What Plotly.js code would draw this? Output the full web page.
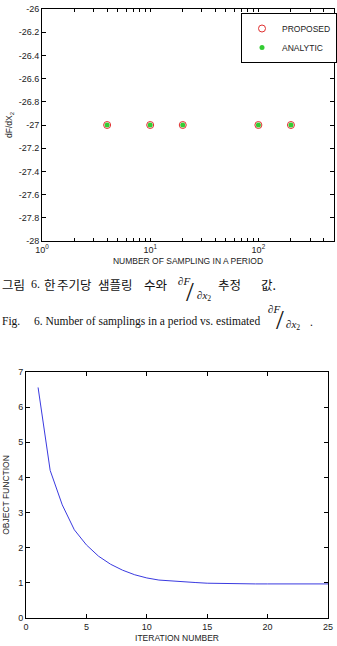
<!DOCTYPE html>
<html>
<head>
<meta charset="utf-8">
<script src="https://cdn.plot.ly/plotly-3.0.1.min.js"></script>
<style>
html,body{margin:0;padding:0;background:#fff;}
#chart{width:337px;height:646px;}
</style>
</head>
<body>
<div id="chart"></div>
<script>
// ---- Figure 6 data ----
const samplingN = [4, 10, 20, 100, 200];
const proposed = [-27, -27, -27, -27, -27];
const analytic = [-27, -27, -27, -27, -27];
const yTicks1 = [-28, -27.8, -27.6, -27.4, -27.2, -27, -26.8, -26.6, -26.4, -26.2, -26];
const xTickVals1 = [1, 10, 100];
const xTickText1 = ['10<sup>0</sup>', '10<sup>1</sup>', '10<sup>2</sup>'];
const xMinorTicks1 = [2,3,4,5,6,7,8,9,20,30,40,50,60,70,80,90,200,300,400];

// ---- Figure 7 data ----
const iteration = [1,2,3,4,5,6,7,8,9,10,11,12,13,14,15,16,17,18,19,20,21,22,23,24,25];
const objective = [6.56,4.2,3.22,2.51,2.08,1.76,1.53,1.36,1.23,1.14,1.08,1.05,1.03,1.01,0.99,0.98,0.97,0.97,0.97,0.97,0.97,0.97,0.97,0.97,0.97];

const W = 337, H = 646;
const px = v => v / W;
const py = v => 1 - v / H;

const tickFont = {family: '"Liberation Sans", Arial, sans-serif', size: 9, color: '#222'};
const titleFont = {family: '"Liberation Sans", Arial, sans-serif', size: 8.5, color: '#222'};

const traces = [
  {
    x: samplingN, y: proposed, name: 'PROPOSED', type: 'scatter', mode: 'markers',
    marker: {symbol: 'circle-open', size: 7, color: '#e03030', line: {width: 1, color: '#e03030'}},
    xaxis: 'x', yaxis: 'y'
  },
  {
    x: samplingN, y: analytic, name: 'ANALYTIC', type: 'scatter', mode: 'markers',
    marker: {symbol: 'circle', size: 5, color: '#33cc33'},
    xaxis: 'x', yaxis: 'y'
  },
  {
    x: iteration, y: objective, type: 'scatter', mode: 'lines', showlegend: false,
    line: {color: '#3a3ae0', width: 1},
    xaxis: 'x2', yaxis: 'y2'
  }
];

const axBase = {
  showline: true, linecolor: '#000', linewidth: 1, mirror: 'ticks',
  ticks: 'inside', ticklen: 4, tickcolor: '#000', showgrid: false, zeroline: false,
  tickfont: tickFont, fixedrange: true
};

const serif = '"Liberation Serif", "Times New Roman", serif';
const kr = '"Noto Sans CJK KR", sans-serif';

const caption = (txt, x, y, size, family) => ({
  text: txt, x: px(x), y: py(y), xref: 'paper', yref: 'paper',
  xanchor: 'left', yanchor: 'middle', showarrow: false,
  font: {family: family, size: size, color: '#111'}
});

// all ticks on the log axis: decades labelled, intermediate ones unlabelled
const xAllTicks1 = xTickVals1.concat(xMinorTicks1);
const xAllText1 = xTickText1.concat(xMinorTicks1.map(() => ' '));

const layout = {
  width: W, height: H,
  margin: {l: 0, r: 0, t: 0, b: 0},
  paper_bgcolor: '#fff', plot_bgcolor: '#fff',
  showlegend: true,
  legend: {
    x: px(241), y: py(13), xanchor: 'left', yanchor: 'top',
    bordercolor: '#000', borderwidth: 1, bgcolor: '#fff',
    font: {family: '"Liberation Sans", Arial, sans-serif', size: 8.5, color: '#222'},
    tracegroupgap: 0, itemwidth: 30
  },
  xaxis: Object.assign({}, axBase, {
    type: 'log', domain: [px(42), px(334)], range: [0, Math.log10(500)],
    tickmode: 'array', tickvals: xAllTicks1, ticktext: xAllText1, ticklen: 3,
    anchor: 'y',
    title: {text: 'NUMBER OF SAMPLING IN A PERIOD', font: titleFont, standoff: 4}
  }),
  yaxis: Object.assign({}, axBase, {
    domain: [py(241), py(9)], range: [-28, -26],
    tickmode: 'array', tickvals: yTicks1, ticktext: yTicks1.map(v => String(v)),
    anchor: 'x',
    title: {text: 'dF/dX<sub>2</sub>', font: titleFont, standoff: 4}
  }),
  xaxis2: Object.assign({}, axBase, {
    domain: [px(26), px(328)], range: [0, 25], dtick: 5, tick0: 0,
    anchor: 'y2',
    title: {text: 'ITERATION NUMBER', font: titleFont, standoff: 4}
  }),
  yaxis2: Object.assign({}, axBase, {
    domain: [py(618), py(372)], range: [0, 7], dtick: 1, tick0: 0,
    anchor: 'x2',
    title: {text: 'OBJECT FUNCTION', font: titleFont, standoff: 7}
  }),
  annotations: [
    caption('그림', 0, 284, 12.5, kr),
    caption('6.', 29, 284, 12, serif),
    caption('한', 42, 284, 12.5, kr),
    caption('주기당', 55, 284, 12.5, kr),
    caption('샘플링', 96, 284, 12.5, kr),
    caption('수와', 142, 284, 12.5, kr),
    caption('<i>∂F</i>', 176, 281, 11, serif),
    caption('/', 184, 291, 28, serif),
    caption('<i>∂x</i><sub>2</sub>', 195, 296, 11, serif),
    caption('추정', 216, 284, 12.5, kr),
    caption('값.', 259, 284, 12.5, kr),
    caption('Fig.', 0, 321, 11.5, serif),
    caption('6. Number of samplings in a period vs. estimated', 32, 321, 11.5, serif),
    caption('<i>∂F</i>', 266, 309, 11, serif),
    caption('/', 274, 320, 28, serif),
    caption('<i>∂x</i><sub>2</sub>', 284, 325, 11, serif),
    caption('.', 308, 322, 11.5, serif)
  ]
};

Plotly.newPlot('chart', traces, layout, {displayModeBar: false, staticPlot: true});
</script>
</body>
</html>
